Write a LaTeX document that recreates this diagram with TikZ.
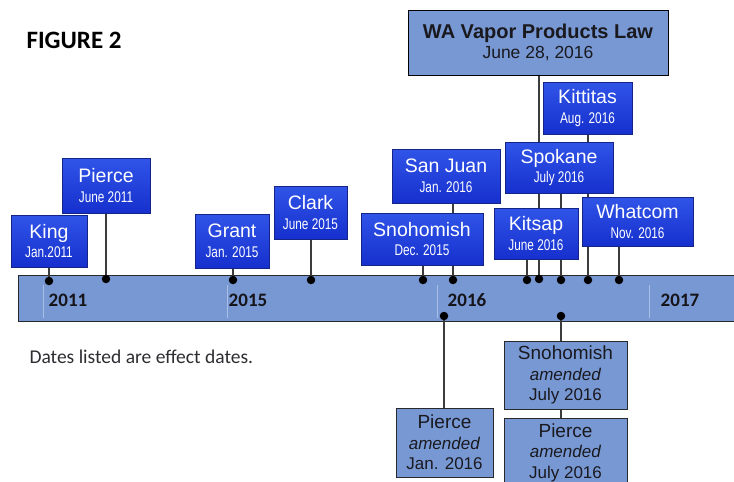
\documentclass[tikz,border=0pt]{standalone}
\usepackage{fontspec}
\usepackage{graphicx}
\setmainfont{Liberation Sans}
\newfontfamily\calibri{Carlito}
\definecolor{bluetop}{RGB}{48,84,232}
\definecolor{bluebot}{RGB}{22,48,205}
\definecolor{blueedge}{RGB}{20,36,135}
\definecolor{lightfill}{RGB}{120,152,212}
\definecolor{baredge}{RGB}{40,40,45}
\definecolor{connc}{RGB}{60,60,60}
\definecolor{tickc}{RGB}{170,190,230}
\newcommand\bname[1]{{\fontsize{19.5}{19}\selectfont #1}}
\newcommand\bdate[1]{{\fontsize{15.5}{19.5}\selectfont\scalebox{0.76}[1]{#1}}}
\newcommand\lname[1]{{\fontsize{19}{20.5}\selectfont #1}}
\tikzset{
  bluebox/.style={draw=blueedge, line width=0.8pt, top color=bluetop, bottom color=bluebot,
    text=white, inner sep=0pt, align=center, font=\fontsize{15.5}{19.5}\selectfont},
  lightbox/.style={draw=baredge, line width=1pt, fill=lightfill, text={rgb,255:red,25;green,25;blue,30},
    inner sep=0pt, align=center, font=\fontsize{17}{20.5}\selectfont},
  conn/.style={draw=connc, line width=1.3pt},
  dotmark/.style={circle, fill=black, inner sep=0pt, minimum size=8.5pt},
  yearlbl/.style={font=\calibri\bfseries\fontsize{19}{19}\selectfont, text={rgb,255:red,20;green,20;blue,25}},
  tickline/.style={draw=tickc, line width=0.8pt},
  anchorbox/.style={inner sep=0pt}
}
\begin{document}
\begin{tikzpicture}[x=1pt,y=-1pt]
\clip (0,0) rectangle (734,482);
\fill[white] (0,0) rectangle (734,482);

% timeline bar
\node[draw=baredge, line width=1.3pt, fill=lightfill, minimum width=730pt, minimum height=46pt, inner sep=0pt, anchor=north west] (bar) at (18,275) {};
\draw[tickline] (43,285) -- (43,318);
\draw[tickline] (227,285) -- (227,318);
\draw[tickline] (437,285) -- (437,318);
\draw[tickline] (649,285) -- (649,318);
\node[yearlbl] (y2011) at (68,300) {2011};
\node[yearlbl] (y2015) at (248,300) {2015};
\node[yearlbl] (y2016) at (467,300) {2016};
\node[yearlbl] (y2017) at (680,300) {2017};

% dot positions
\coordinate (dKing) at (49,281);
\coordinate (dPierce) at (106,279);
\coordinate (dGrant) at (233,280);
\coordinate (dClark) at (311,280);
\coordinate (dSnoh) at (423,280);
\coordinate (dSanJuan) at (453,280);
\coordinate (dKitsap) at (527,280);
\coordinate (dLaw) at (539,279);
\coordinate (dSpokane) at (561,280);
\coordinate (dKittitas) at (588,280);
\coordinate (dWhatcom) at (619,280);
\coordinate (dPierceA) at (444,316);
\coordinate (dSnohA) at (561,316);

% box frames (anchors only, drawn later)
\path
 node[anchorbox, minimum width=76pt, minimum height=52pt] (king) at (49,241) {}
 node[anchorbox, minimum width=88pt, minimum height=55pt] (pierce) at (106,185.5) {}
 node[anchorbox, minimum width=74pt, minimum height=54pt] (grant) at (232,241) {}
 node[anchorbox, minimum width=73pt, minimum height=53pt] (clark) at (310.5,212.5) {}
 node[anchorbox, minimum width=122pt, minimum height=52pt] (snoh) at (422,239) {}
 node[anchorbox, minimum width=108pt, minimum height=54pt] (sanjuan) at (446,176) {}
 node[anchorbox, minimum width=84pt, minimum height=51pt] (kitsap) at (536,233.5) {}
 node[anchorbox, minimum width=108pt, minimum height=51pt] (spokane) at (559,167.5) {}
 node[anchorbox, minimum width=89pt, minimum height=52pt] (kittitas) at (587.5,108) {}
 node[anchorbox, minimum width=111pt, minimum height=49pt] (whatcom) at (637.5,221.5) {}
 node[anchorbox, minimum width=260pt, minimum height=65pt] (law) at (538,42.5) {}
 node[anchorbox, minimum width=123pt, minimum height=68pt] (snohA) at (565.5,375) {}
 node[anchorbox, minimum width=97pt, minimum height=69pt] (pierceL) at (444.5,442.5) {}
 node[anchorbox, minimum width=123pt, minimum height=69pt] (pierceR) at (565.5,452.5) {};

% connectors
\draw[conn] (dKing) -- (dKing |- king.south);
\draw[conn] (dPierce) -- (dPierce |- pierce.south);
\draw[conn] (dGrant) -- (dGrant |- grant.south);
\draw[conn] (dClark) -- (dClark |- clark.south);
\draw[conn] (dSnoh) -- (dSnoh |- snoh.south);
\draw[conn] (dSanJuan) -- (dSanJuan |- sanjuan.south);
\draw[conn] (dKitsap) -- (dKitsap |- kitsap.south);
\draw[conn] (dLaw) -- (dLaw |- law.south);
\draw[conn] (dSpokane) -- (dSpokane |- spokane.south);
\draw[conn] (dKittitas) -- (dKittitas |- kittitas.south);
\draw[conn] (dWhatcom) -- (dWhatcom |- whatcom.south);
\draw[conn] (dPierceA) -- (dPierceA |- pierceL.north);
\draw[conn] (dSnohA) -- (dSnohA |- pierceR.north);

% visible boxes
\node[bluebox, minimum width=76pt, minimum height=52pt] at (king.center) {\bname{King}\\\bdate{Jan.2011}};
\node[bluebox, minimum width=88pt, minimum height=55pt] at (pierce.center) {\bname{Pierce}\\\bdate{June 2011}};
\node[bluebox, minimum width=74pt, minimum height=54pt] at (grant.center) {\bname{Grant}\\\bdate{Jan. 2015}};
\node[bluebox, minimum width=73pt, minimum height=53pt] at (clark.center) {\bname{Clark}\\\bdate{June 2015}};
\node[bluebox, minimum width=108pt, minimum height=54pt] at (sanjuan.center) {\bname{San Juan}\\\bdate{Jan. 2016}};
\node[bluebox, minimum width=122pt, minimum height=52pt] at (snoh.center) {\bname{Snohomish}\\\bdate{Dec. 2015}};
\node[bluebox, minimum width=89pt, minimum height=52pt] at (kittitas.center) {\bname{Kittitas}\\\bdate{Aug. 2016}};
\node[bluebox, minimum width=108pt, minimum height=51pt] at (spokane.center) {\bname{Spokane}\\\bdate{July 2016}};
\node[bluebox, minimum width=84pt, minimum height=51pt] at (kitsap.center) {\bname{Kitsap}\\\bdate{June 2016}};
\node[bluebox, minimum width=111pt, minimum height=49pt] at (whatcom.center) {\bname{Whatcom}\\\bdate{Nov. 2016}};
\node[lightbox, draw=black, minimum width=260pt, minimum height=65pt, font=\fontsize{17.5}{20}\selectfont] at (law.center)
  {{\fontsize{20}{20}\selectfont\bfseries WA Vapor Products Law}\\June 28, 2016};
\node[lightbox, minimum width=123pt, minimum height=68pt] at (snohA.center) {\lname{Snohomish}\\\textit{amended}\\July 2016};
\node[lightbox, minimum width=97pt, minimum height=69pt] at (pierceL.center) {\lname{Pierce}\\\textit{amended}\\Jan. 2016};
\node[lightbox, minimum width=123pt, minimum height=69pt] at (pierceR.center) {\lname{Pierce}\\\textit{amended}\\July 2016};

% dots
\foreach \d in {dKing,dPierce,dGrant,dClark,dSnoh,dSanJuan,dKitsap,dLaw,dSpokane,dKittitas,dWhatcom,dPierceA,dSnohA}
  \node[dotmark] at (\d) {};

% texts
\node[font=\calibri\bfseries\fontsize{25}{25}\selectfont, anchor=base west] (fig) at (23,48) {FIGURE 2};
\node[font=\calibri\fontsize{19.5}{19.5}\selectfont, text={rgb,255:red,45;green,45;blue,50}, anchor=base west] (note) at (26,363) {Dates listed are effect dates.};
\end{tikzpicture}
\end{document}
